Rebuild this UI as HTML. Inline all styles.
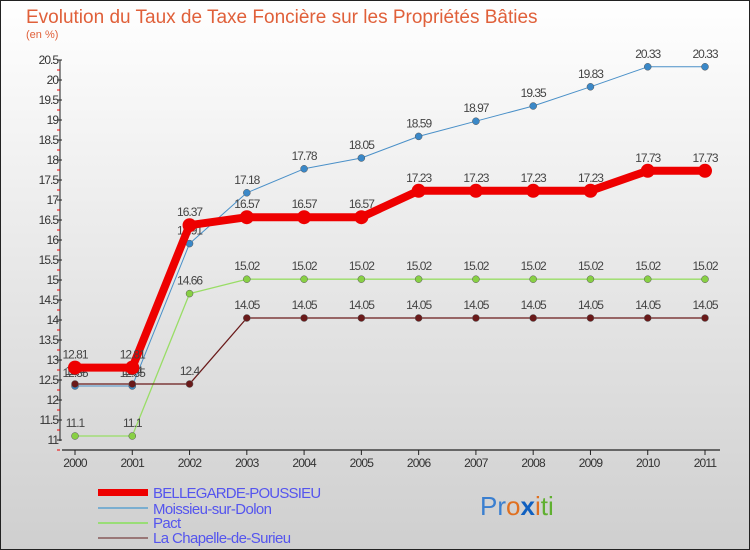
<!DOCTYPE html>
<html><head><meta charset="utf-8"><style>
body{margin:0}
#c{width:750px;height:550px;position:relative;overflow:hidden;font-family:"Liberation Sans",sans-serif}
</style></head><body>
<div id="c">
<svg id="s" width="750" height="550" xmlns="http://www.w3.org/2000/svg" font-family="'Liberation Sans',sans-serif">
<defs><linearGradient id="bg" x1="0" y1="0" x2="0" y2="1"><stop offset="0" stop-color="#ffffff"/><stop offset="1" stop-color="#cfcfcf"/></linearGradient></defs>
<rect x="0.5" y="0.5" width="749" height="549" fill="url(#bg)" stroke="#222"/>
<text x="26" y="23" font-size="19" fill="#e0603a">Evolution du Taux de Taxe Foncière sur les Propriétés Bâties</text>
<text x="26" y="38" font-size="11" fill="#e0603a">(en %)</text>
<g id="axes"></g><g id="series"></g>
<g>
<rect x="98" y="489" width="50" height="7" fill="#ee0000"/>
<text x="153" y="498" font-size="15" fill="#5555ee" letter-spacing="-0.8">BELLEGARDE-POUSSIEU</text>
<line x1="98" y1="508" x2="148" y2="508" stroke="#7aaed0" stroke-width="2"/>
<text x="153" y="514" font-size="15" fill="#5555ee" letter-spacing="-0.6">Moissieu-sur-Dolon</text>
<line x1="98" y1="523" x2="148" y2="523" stroke="#99dd77" stroke-width="2"/>
<text x="153" y="528" font-size="15" fill="#5555ee" letter-spacing="-0.6">Pact</text>
<line x1="98" y1="538" x2="148" y2="538" stroke="#997777" stroke-width="2"/>
<text x="153" y="543" font-size="15" fill="#5555ee" letter-spacing="-0.6">La Chapelle-de-Surieu</text>
</g>
<g font-size="26">
<text x="480" y="515"><tspan fill="#3a7fd0">Pr</tspan><tspan fill="#e07020">o</tspan><tspan fill="#1060c0" font-weight="bold">x</tspan><tspan fill="#e07020">i</tspan><tspan fill="#60b030">ti</tspan></text>
</g>
</svg>
</div>
<script>
const years=["2000","2001","2002","2003","2004","2005","2006","2007","2008","2009","2010","2011"];
const yTicks=[11,11.5,12,12.5,13,13.5,14,14.5,15,15.5,16,16.5,17,17.5,18,18.5,19,19.5,20,20.5];
const bellegarde=[12.81,12.81,16.37,16.57,16.57,16.57,17.23,17.23,17.23,17.23,17.73,17.73];
const moissieu=[12.35,12.35,15.91,17.18,17.78,18.05,18.59,18.97,19.35,19.83,20.33,20.33];
const pact=[11.1,11.1,14.66,15.02,15.02,15.02,15.02,15.02,15.02,15.02,15.02,15.02];
const chapelle=[12.4,12.4,12.4,14.05,14.05,14.05,14.05,14.05,14.05,14.05,14.05,14.05];
const NS="http://www.w3.org/2000/svg";
const X=i=>75+i*(705-75)/(years.length-1);
const Y=v=>440-(v-11)*40;
function mk(t,a,p){const e=document.createElementNS(NS,t);for(const k in a)e.setAttribute(k,a[k]);p.appendChild(e);return e;}
const ax=document.getElementById('axes');
mk('line',{x1:60,y1:60,x2:60,y2:441,stroke:'#222'},ax);
mk('line',{x1:62,y1:450,x2:720,y2:450,stroke:'#222','stroke-width':1.3},ax);
yTicks.forEach(v=>{
 mk('line',{x1:57,y1:Y(v),x2:62,y2:Y(v),stroke:'#222'},ax);
 mk('line',{x1:57,y1:Y(v)+10,x2:60,y2:Y(v)+10,stroke:'#e00'},ax);
 const t=mk('text',{x:58,y:Y(v)+4,'font-size':12,'text-anchor':'end',fill:'#333','letter-spacing':'-1'},ax);
 t.textContent=String(v);
 
 
});
years.forEach((y,i)=>{
 mk('line',{x1:X(i),y1:450,x2:X(i),y2:455,stroke:'#222'},ax);
 const t=mk('text',{x:X(i),y:467,'font-size':12,'text-anchor':'middle',fill:'#333','letter-spacing':'-0.8'},ax);
 t.textContent=y;
 
 
});
const sg=document.getElementById('series');
function series(vals,name,color,lw,dot,dotc){
 const g=mk('g',{},sg);
 
 
 mk('polyline',{points:vals.map((v,i)=>X(i)+','+Y(v)).join(' '),fill:'none',stroke:color,'stroke-width':lw,'stroke-linejoin':'round'},g);
 vals.forEach((v,i)=>{
  const c=mk('circle',{cx:X(i),cy:Y(v),r:dot,fill:dotc,stroke:'#555','stroke-width':lw>3?0:0.5},g);
  
  
  const t=mk('text',{x:X(i),y:Y(v)-9,'font-size':12,'text-anchor':'middle',fill:'#444','letter-spacing':'-1'},g);
  t.textContent=String(v);
  
  
 });
}
series(moissieu,'moissieu-series','#4a90c8',1,3.5,'#3a88c8');
series(pact,'pact-series','#99dd66',1.3,3.5,'#88d044');
series(chapelle,'chapelle-series','#6a1a1a',1.3,3.5,'#6a1a1a');
series(bellegarde,'bellegarde-series','#ee0000',8,7,'#ee0000');
</script>
</body></html>
